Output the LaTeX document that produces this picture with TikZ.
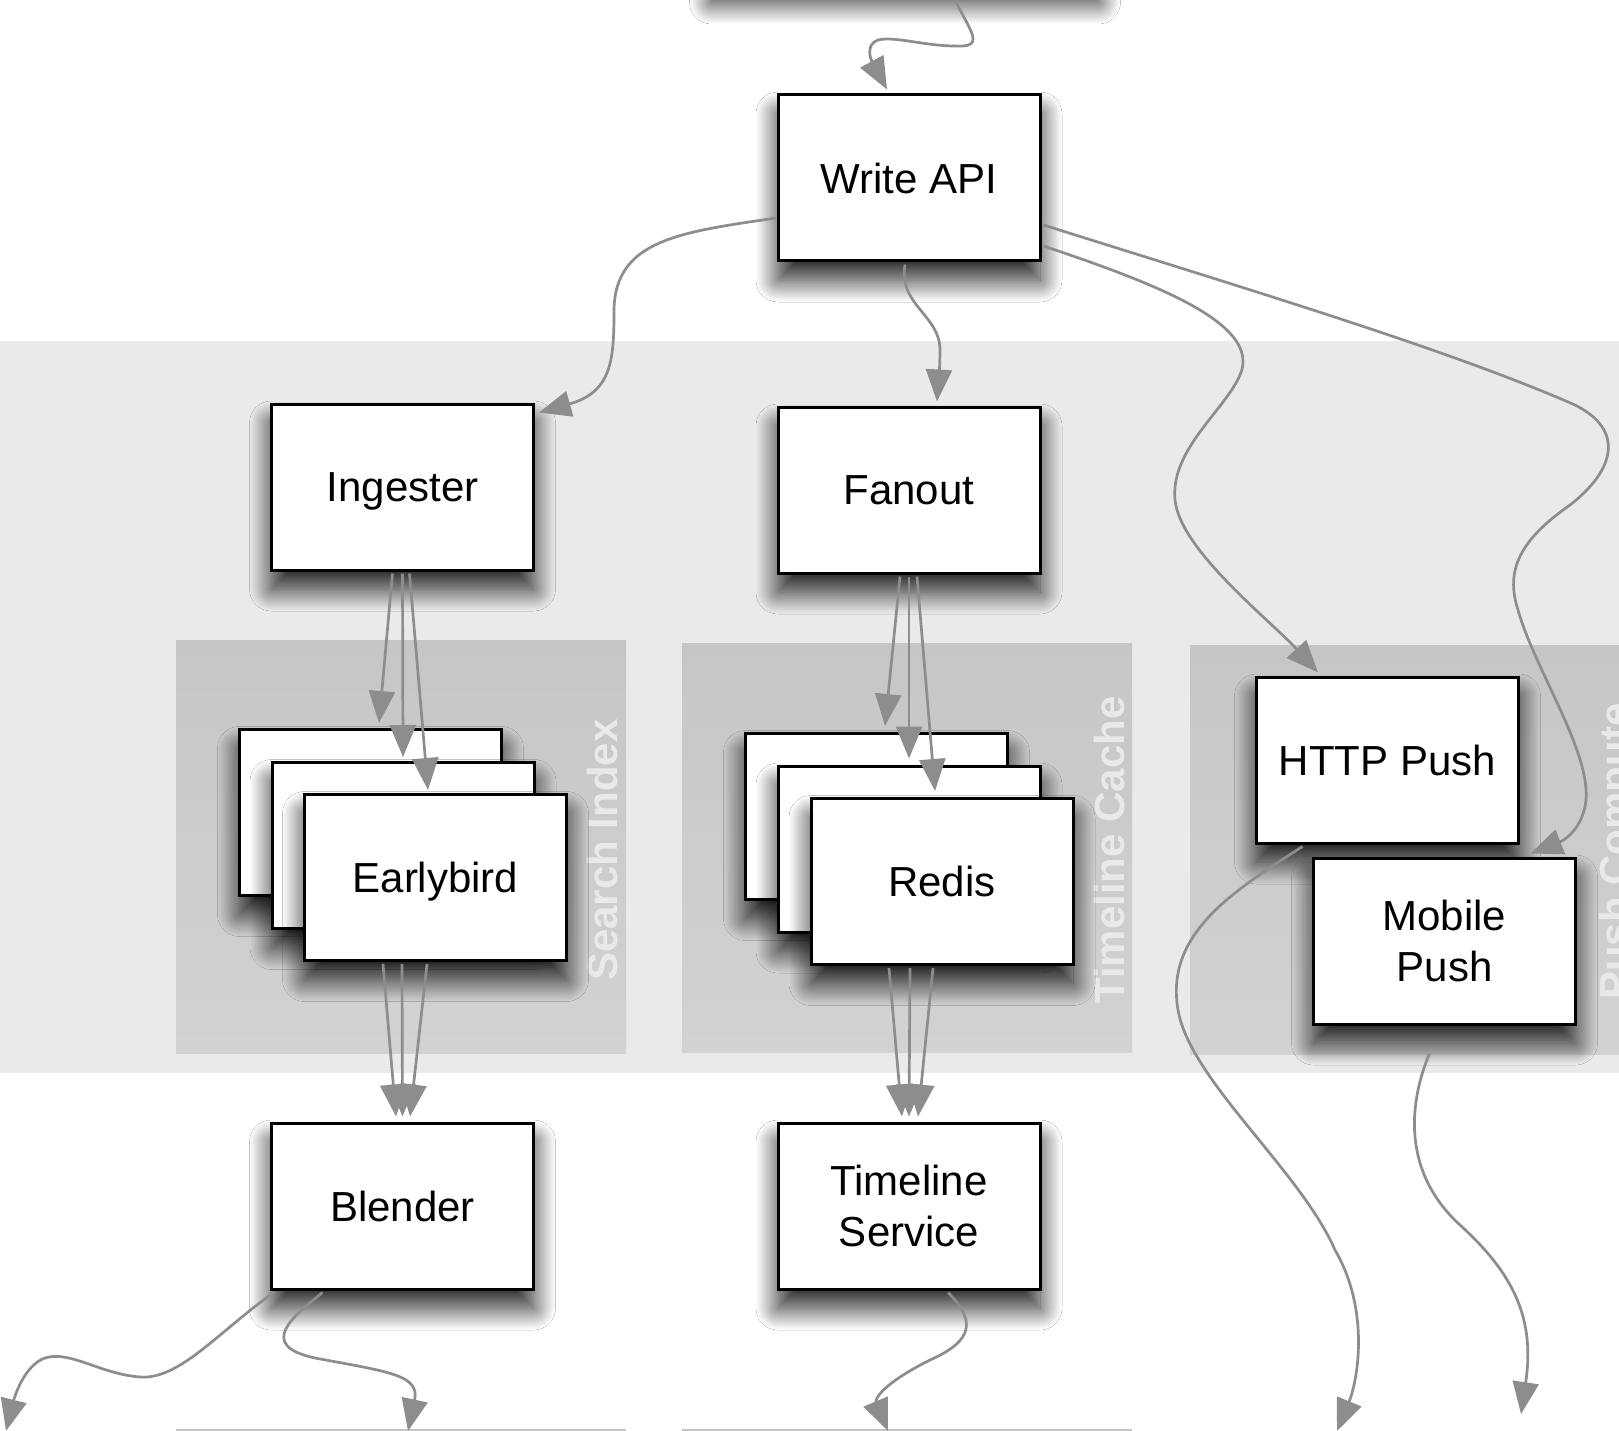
\documentclass[tikz,border=0pt]{standalone}
\usepackage{fontspec}
\setmainfont{Liberation Sans}
\usetikzlibrary{arrows.meta,shadows.blur,calc}
\definecolor{bandc}{RGB}{234,234,234}
\definecolor{clustop}{RGB}{198,198,198}
\definecolor{clusbot}{RGB}{210,210,210}
\definecolor{wirec}{RGB}{141,141,141}
\definecolor{clabc}{RGB}{233,233,233}
\definecolor{edgec}{RGB}{196,196,196}
\begin{document}
\begin{tikzpicture}[x=1pt,y=-1pt,
  svc/.style={draw=black, line width=3pt, fill=white, minimum width=262pt, minimum height=166pt,
    inner sep=0pt, align=center, text depth=0pt, font=\fontsize{42}{51}\selectfont,
    blur shadow={shadow xshift=0pt, shadow yshift=-19pt, shadow blur radius=22pt,
      shadow blur steps=40, shadow opacity=88}},
  wire/.style={draw=wirec, line width=2.7pt, -{Triangle[length=32pt,width=26pt]}},
  clab/.style={rotate=90, anchor=base west, inner sep=0pt, text=clabc, font=\fontsize{42}{50}\selectfont\bfseries},
  clus/.style={top color=clustop, bottom color=clusbot, draw=none},
]
\useasboundingbox (0,0) rectangle (1619,1431);
\clip (0,0) rectangle (1619,1431);
\fill[white] (0,0) rectangle (1619,1431);

% band and clusters
\fill[bandc] (0,341) rectangle (1619,1073);
\path[clus] (176,640) rectangle (626,1053);
\path[clus] (682,643) rectangle (1132,1052);
\path[clus] (1190,645) rectangle (1650,1054);
\node[clab] (lsi) at (617,981) {Search Index};
\node[clab] (ltc) at (1124,1004) {Timeline Cache};
\node[clab] (lpc) at (1629,1000) {Push Compute};

% edges of next-row clusters at bottom
\draw[edgec, line width=3pt] (176,1430) -- (626,1430);
\draw[edgec, line width=3pt] (682,1430) -- (1132,1430);

% nodes
\node[svc, minimum width=387pt] (src) at (905,-100) {};
\node[svc] (wapi) at (909,178) {Write API};
\node[svc] (ing) at (402.5,487) {Ingester};
\node[svc] (fan) at (909,490) {Fanout};
\node[svc] (eb1) at (370.5,812.5) {};
\node[svc] (eb2) at (403,845.5) {};
\node[svc] (eb3) at (435.5,877.5) {Earlybird};
\node[svc] (r1) at (876.5,816.5) {};
\node[svc] (r2) at (909,849) {};
\node[svc] (r3) at (942,881.5) {Redis};
\node[svc] (http) at (1387.5,760) {HTTP Push};
\node[svc] (mob) at (1444.5,941) {Mobile\\Push};
\node[svc] (bl) at (402.5,1206) {Blender};
\node[svc] (ts) at (909,1206) {Timeline\\Service};

% free ends at the bottom
\coordinate (endL) at (6,1431);
\coordinate (endB) at (408,1431);
\coordinate (endT) at (888,1431);
\coordinate (endH) at (1337,1431);
\coordinate (endM) at (1521,1414);

% connectors
\draw[wire] ($(src.south)+(45,4)$) .. controls (966,28) and (990,48) .. (955,46)
  .. controls (925,46) and (895,36) .. (878,40) .. controls (866,44) and (870,58) .. ($(wapi.north)+(-22,-4)$);
\draw[wire] ($(wapi.west)+(0,40)$) .. controls (680,232) and (615,240) .. (614,310)
  .. controls (614,360) and (612,392) .. ($(ing.north east)+(4,10)$);
\draw[wire] ($(wapi.south)+(-4,2)$) .. controls (898,305) and (940,315) .. (940,350)
  .. controls (940,370) and (938,385) .. ($(fan.north)+(28,-4)$);
\draw[wire] ($(wapi.east)+(2,68)$) .. controls (1160,285) and (1262,325) .. (1240,375)
  .. controls (1225,410) and (1170,450) .. (1175,500) .. controls (1180,550) and (1270,620) .. ($(http.north west)+(63,-3)$);
\draw[wire] ($(wapi.east)+(2,47)$) .. controls (1250,290) and (1450,350) .. (1575,405)
  .. controls (1625,430) and (1615,470) .. (1570,505) .. controls (1520,540) and (1505,570) .. (1518,610)
  .. controls (1535,670) and (1590,750) .. (1586,800) .. controls (1583,828) and (1565,840) .. ($(mob.north)+(86,-3)$);

\draw[wire] ($(ing.south)+(-10,2)$) -- ($(eb1.north)+(8.5,-5)$);
\draw[wire] ($(ing.south)+(0,2)$) -- ($(eb2.north)+(0,-4)$);
\draw[wire] ($(ing.south)+(7,2)$) -- ($(eb3.north)+(-7.5,-3)$);

\draw[wire] ($(fan.south)+(-9,2)$) -- ($(r1.north)+(8.5,-6)$);
\draw[wire] ($(fan.south)+(0,2)$) -- ($(r2.north)+(0,-6)$);
\draw[wire] ($(fan.south)+(8,2)$) -- ($(r3.north)+(-7,-6)$);

\draw[wire] ($(eb1.south |- eb3.south)+(12.5,2)$) -- ($(bl.north)+(-6.5,-5)$);
\draw[wire] ($(eb2.south |- eb3.south)+(-1,2)$) -- ($(bl.north)+(0,-5)$);
\draw[wire] ($(eb3.south)+(-8.5,2)$) -- ($(bl.north)+(7.5,-5)$);

\draw[wire] ($(r1.south |- r3.south)+(12.5,2)$) -- ($(ts.north)+(-7,-5)$);
\draw[wire] ($(r2.south |- r3.south)+(1,2)$) -- ($(ts.north)+(0,-5)$);
\draw[wire] ($(r3.south)+(-9,2)$) -- ($(ts.north)+(9,-5)$);

\draw[wire] ($(bl.south west)+(4,2)$) .. controls (220,1330) and (180,1380) .. (140,1377)
  .. controls (100,1374) and (70,1350) .. (45,1358) .. controls (25,1365) and (15,1395) .. (endL);
\draw[wire] ($(bl.south)+(-80,2)$) .. controls (295,1315) and (255,1345) .. (315,1358)
  .. controls (390,1372) and (420,1375) .. (endB);
\draw[wire] ($(ts.south)+(39,2)$) .. controls (975,1320) and (975,1340) .. (930,1360)
  .. controls (880,1385) and (875,1400) .. (endT);
\draw[wire] ($(http.south)+(-85,2)$) .. controls (1230,893) and (1165,935) .. (1178,1010)
  .. controls (1190,1080) and (1300,1170) .. (1335,1250) .. controls (1370,1310) and (1358,1380) .. (endH);
\draw[wire] ($(mob.south)+(-15,28)$) .. controls (1410,1100) and (1400,1170) .. (1460,1225)
  .. controls (1515,1275) and (1535,1320) .. (endM);
\end{tikzpicture}
\end{document}
